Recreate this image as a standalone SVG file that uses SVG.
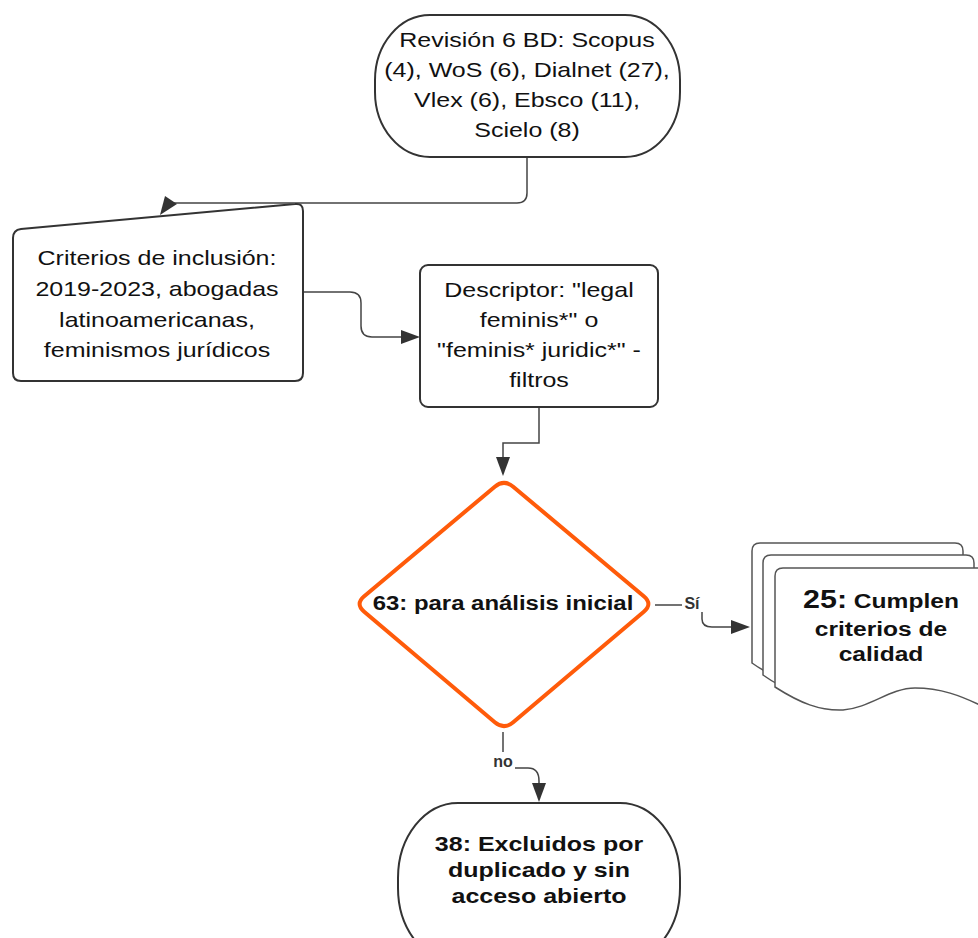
<svg xmlns="http://www.w3.org/2000/svg" width="978" height="938" viewBox="0 0 978 938">
<defs>
<style>
.shape{fill:#fff;stroke:#333;stroke-width:2}
.page{fill:#fff;stroke:#555;stroke-width:1.5}
.conn{fill:none;stroke:#444;stroke-width:1.5}
.head{fill:#333;stroke:none}
.t{font-family:"Liberation Sans",Arial,sans-serif;font-size:21px;fill:#111;text-anchor:middle}
.b{font-weight:bold}
.lbl{font-family:"Liberation Sans",Arial,sans-serif;font-size:16px;font-weight:bold;fill:#333;text-anchor:middle}
</style>
</defs>
<rect width="978" height="938" fill="#fff"/>

<g id="connectors">
<path class="conn" d="M527,157 L527,193 Q527,203 517,203 L174,203"/>
<polygon class="head" points="165,196 177,204 160,215"/>
<path class="conn" d="M303,292 L350,292 Q361,292 361,303 L361,326 Q361,337 372,337 L403,337"/>
<polygon class="head" points="420,337 401,330 401,344"/>
<path class="conn" d="M539,407 L539,443 L503,443 L503,459"/>
<polygon class="head" points="503,476 496,457 510,457"/>
<path class="conn" d="M655,605 L682,605"/>
<path class="conn" d="M702,612 L702,619 Q702,627 712,627 L733,627"/>
<polygon class="head" points="750,627 731,620 731,634"/>
<text class="lbl" x="692" y="609" font-size="18">Sí</text>
<path class="conn" d="M503,732 L503,752"/>
<path class="conn" d="M515,768 L528,768 Q539,768 539,781 L539,785"/>
<polygon class="head" points="539,802 532,783 546,783"/>
<text class="lbl" x="503" y="767">no</text>
</g>

<g id="node-revision">
<rect class="shape" x="375" y="15" width="305" height="142" rx="55" ry="65"/>
<g transform="translate(527 0) scale(1.19 1)">
<text class="t" x="0" y="47">Revisión 6 BD: Scopus</text>
<text class="t" x="0" y="77">(4), WoS (6), Dialnet (27),</text>
<text class="t" x="0" y="107">Vlex (6), Ebsco (11),</text>
<text class="t" x="0" y="137">Scielo (8)</text>
</g>
</g>

<g id="node-criterios">
<path class="shape" d="M13,238 Q13,230 21,229 L295,204 Q303,203 303,211 L303,373 Q303,381 295,381 L21,381 Q13,381 13,373 Z"/>
<g transform="translate(157 0) scale(1.19 1)">
<text class="t" x="0" y="265">Criterios de inclusión:</text>
<text class="t" x="0" y="296">2019-2023, abogadas</text>
<text class="t" x="0" y="327">latinoamericanas,</text>
<text class="t" x="0" y="357">feminismos jurídicos</text>
</g>
</g>

<g id="node-descriptor">
<rect class="shape" x="420" y="265" width="238" height="142" rx="8" ry="8"/>
<g transform="translate(539 0) scale(1.19 1)">
<text class="t" x="0" y="297">Descriptor: "legal</text>
<text class="t" x="0" y="327">feminis*" o</text>
<text class="t" x="0" y="357">"feminis* juridic*" -</text>
<text class="t" x="0" y="387">filtros</text>
</g>
</g>

<g id="node-decision">
<path d="M494.8,486.7 Q504,479 513.2,486.7 L643.8,596.3 Q653,604 643.8,611.7 L513.2,722.3 Q504,730 494.8,722.3 L364.2,611.7 Q355,604 364.2,596.3 Z" fill="#fff" stroke="#FF5B0A" stroke-width="4" stroke-linejoin="round"/>
<g transform="translate(503 0) scale(1.14 1)">
<text class="t b" x="0" y="610" font-size="20">63: para análisis inicial</text>
</g>
</g>

<g id="node-cumplen">
<path class="page" d="M752,663 L752,551 Q752,543 760,543 L955,543 Q963,543 963,551 L963,683 C933,668 913,663 888,663 C863,663 843,685 816,685 C793,685 773,678 752,663 Z"/>
<path class="page" d="M763,675 L763,563 Q763,555 771,555 L966,555 Q974,555 974,563 L974,695 C944,680 924,675 899,675 C874,675 854,697 827,697 C804,697 784,690 763,675 Z"/>
<path class="page" d="M775,687 L775,576 Q775,568 783,568 L978,568 Q986,568 986,576 L986,708 C960,695 940,688 915,688 C890,688 870,708 843,710 C820,711 800,703 775,687 Z"/>
<g transform="translate(881 0) scale(1.17 1)">
<text class="t b" x="0" y="608"><tspan font-size="26">25:</tspan> Cumplen</text>
<text class="t b" x="0" y="636">criterios de</text>
<text class="t b" x="0" y="661">calidad</text>
</g>
</g>

<g id="node-excluidos">
<rect class="shape" x="398" y="803" width="282" height="160" rx="60" ry="75"/>
<g transform="translate(539 0) scale(1.19 1)">
<text class="t b" x="0" y="851">38: Excluidos por</text>
<text class="t b" x="0" y="877">duplicado y sin</text>
<text class="t b" x="0" y="903">acceso abierto</text>
</g>
</g>
</svg>
